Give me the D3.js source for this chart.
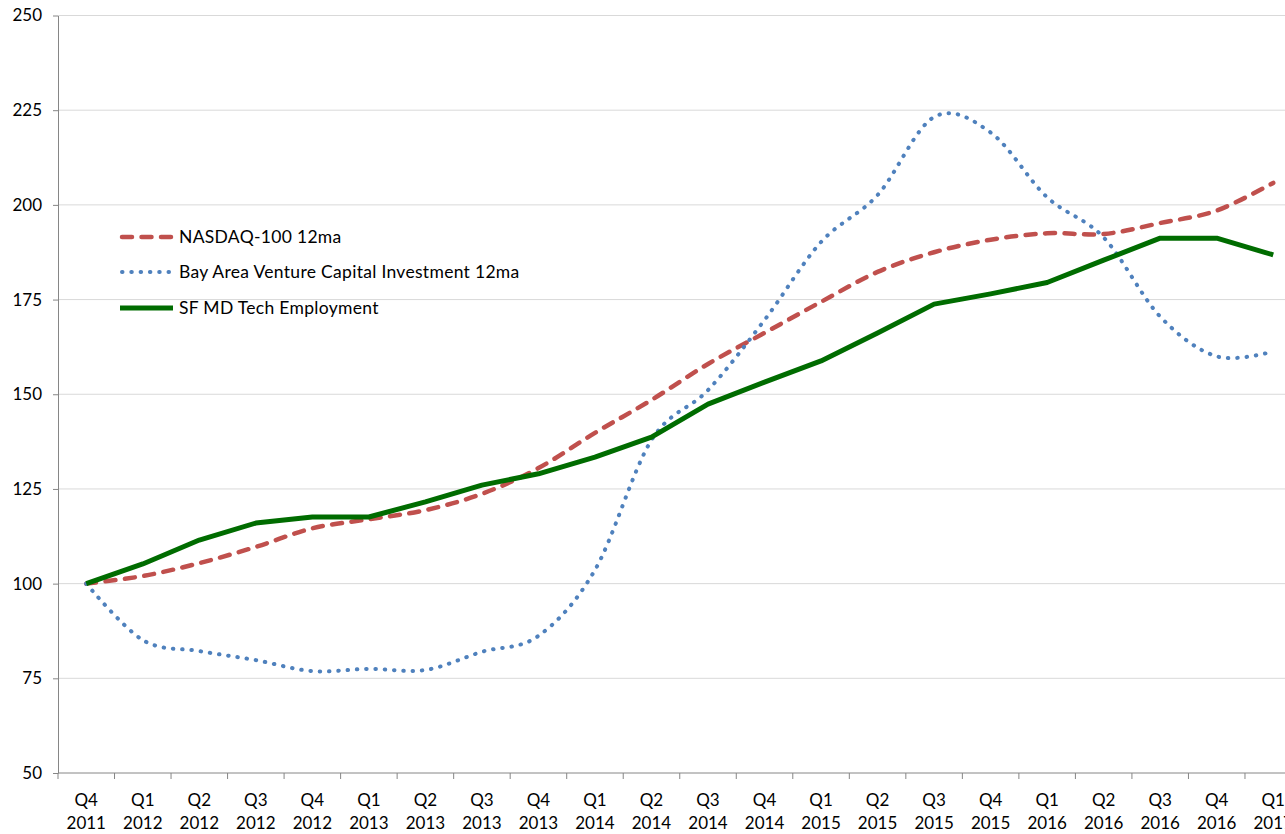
<!DOCTYPE html>
<html>
<head>
<meta charset="utf-8">
<script src="https://cdn.jsdelivr.net/npm/d3@7"></script>
<style>
  body { margin: 0; background: #fff; }
  text { font-family: Lato, "Liberation Sans", sans-serif; fill: #000; }
</style>
</head>
<body>
<div id="chart"></div>
<script>
// DATA ---------------------------------------------------------------
const quarters = ["Q4","Q1","Q2","Q3","Q4","Q1","Q2","Q3","Q4","Q1","Q2","Q3","Q4","Q1","Q2","Q3","Q4","Q1","Q2","Q3","Q4","Q1"]
const years    = ["2011","2012","2012","2012","2012","2013","2013","2013","2013","2014","2014","2014","2014","2015","2015","2015","2015","2016","2016","2016","2016","2017"]

const nasdaq   = [100, 102, 105.4, 109.7, 114.6, 117, 119.4, 123.7, 130.5, 139.8, 148.5, 158, 166.2, 174.4, 182.3, 187.5, 190.8, 192.5, 192.3, 195.2, 198.5, 205.8]
const ventureCap = [100, 85.1, 82.2, 79.8, 76.9, 77.5, 77.2, 82, 86.2, 103.6, 137.9, 151.1, 169.6, 190.2, 202.6, 223.2, 219.1, 202, 191.4, 170.5, 160, 161.3]
const techEmp  = [100, 105.2, 111.5, 116, 117.6, 117.6, 121.6, 126, 129, 133.4, 138.7, 147.4, 153.2, 158.8, 166.2, 173.8, 176.5, 179.5, 185.4, 191.2, 191.2, 186.8]

const yTicks = [50, 75, 100, 125, 150, 175, 200, 225, 250]

const seriesNames = ["NASDAQ-100 12ma", "Bay Area Venture Capital Investment 12ma", "SF MD Tech Employment"]

// SETTINGS -----------------------------------------------------------
const width = 1285, height = 834
const plot = { left: 58, right: 1301.5, top: 15.5, bottom: 773 }

const categories = quarters.map((q, i) => q + " " + years[i])

const series = [
  { name: seriesNames[0], values: nasdaq,     color: "#C0504D", width: 4.5, dash: "10 9.5", curve: d3.curveCatmullRom.alpha(0) },
  { name: seriesNames[1], values: ventureCap, color: "#4F81BD", width: 4,   dash: "0.5 8.8", curve: d3.curveCatmullRom.alpha(0) },
  { name: seriesNames[2], values: techEmp,    color: "#006C00", width: 5,   dash: null,     curve: d3.curveLinear }
]

const svg = d3.select("#chart").append("svg")
  .attr("width", width)
  .attr("height", height)

const x = d3.scaleBand().domain(categories).range([plot.left, plot.right]).padding(0)
const y = d3.scaleLinear().domain([50, 250]).range([plot.bottom, plot.top])
const cx = c => x(c) + x.bandwidth() / 2

// GRIDLINES ----------------------------------------------------------
svg.append("g")
  .selectAll("line")
  .data(yTicks.filter(t => t !== 50))
  .join("line")
  .attr("x1", plot.left).attr("x2", width)
  .attr("y1", d => y(d)).attr("y2", d => y(d))
  .attr("stroke", "#d9d9d9")
  .attr("stroke-width", 1)

// Y AXIS -------------------------------------------------------------
const yAxis = svg.append("g")
  .attr("transform", `translate(${plot.left},0)`)
  .call(d3.axisLeft(y).tickValues(yTicks).tickSize(5).tickPadding(11).tickSizeOuter(0))
yAxis.select(".domain").attr("stroke", "#868686")
yAxis.selectAll(".tick line").attr("stroke", "#868686")
yAxis.selectAll(".tick text").attr("font-size", 17).attr("font-family", "Lato, sans-serif").attr("fill", "#000")

// X AXIS -------------------------------------------------------------
const xAxis = svg.append("g")
  .attr("transform", `translate(0,${plot.bottom})`)
xAxis.append("line")
  .attr("x1", plot.left).attr("x2", width)
  .attr("stroke", "#868686")
xAxis.selectAll("line.tick")
  .data(d3.range(categories.length + 1))
  .join("line")
  .attr("class", "tick")
  .attr("x1", i => plot.left + i * x.bandwidth())
  .attr("x2", i => plot.left + i * x.bandwidth())
  .attr("y1", 0).attr("y2", 6)
  .attr("stroke", "#868686")

const xLabels = xAxis.selectAll("text")
  .data(categories)
  .join("text")
  .attr("text-anchor", "middle")
  .attr("font-size", 17)
xLabels.append("tspan")
  .attr("x", d => cx(d)).attr("y", 33)
  .text((d, i) => quarters[i])
xLabels.append("tspan")
  .attr("x", d => cx(d)).attr("y", 56)
  .text((d, i) => years[i])

// LINES --------------------------------------------------------------
series.forEach(s => {
  const line = d3.line()
    .x((v, i) => cx(categories[i]))
    .y(v => y(v))
    .curve(s.curve)

  svg.append("path")
    .datum(s.values)
    .attr("d", line)
    .attr("fill", "none")
    .attr("stroke", s.color)
    .attr("stroke-width", s.width)
    .attr("stroke-linecap", s.dash ? "round" : "butt")
    .attr("stroke-linejoin", "round")
    .attr("stroke-dasharray", s.dash)
})

// LEGEND -------------------------------------------------------------
const legendRows = [237, 272, 308]
const legend = svg.append("g")
series.forEach((s, i) => {
  const g = legend.append("g").attr("transform", `translate(0,${legendRows[i]})`)
  g.append("line")
    .attr("x1", s.dash ? 122 : 120).attr("x2", s.dash ? 172 : 173)
    .attr("stroke", s.color)
    .attr("stroke-width", s.width)
    .attr("stroke-linecap", s.dash ? "round" : "butt")
    .attr("stroke-dasharray", s.dash)
  g.append("text")
    .attr("x", 179).attr("y", 6)
    .attr("font-size", 17.5)
    .attr("letter-spacing", 0.3)
    .text(s.name)
})
</script>
</body>
</html>
